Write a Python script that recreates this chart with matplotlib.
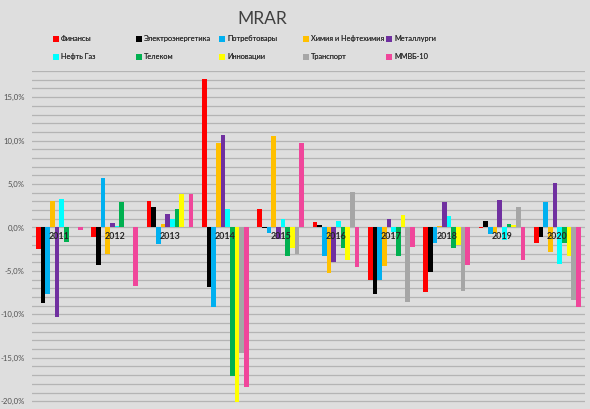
import numpy as np
import matplotlib.pyplot as plt
from matplotlib.lines import Line2D
from matplotlib.ticker import MultipleLocator, FuncFormatter

# Годы и отрасли
years = ['2011', '2012', '2013', '2014', '2015', '2016', '2017', '2018', '2019', '2020']
sectors = ['Финансы', 'Электроэнергетика', 'Потребтовары', 'Химия и Нефтехимия', 'Металлурги',
           'Нефть Газ', 'Телеком', 'Инновации', 'Транспорт', 'ММВБ-10']
colors = ['#ff0000', '#000000', '#00b0f0', '#ffc000', '#7030a0',
          '#00ffff', '#00b050', '#ffff00', '#a6a6a6', '#f0469b']

# Значения MRAR, %
finansy = [-2.5, -1.1, 3.0, 17.1, 2.1, 0.6, -6.1, -7.4, -0.05, -1.75]
elektro = [-8.7, -4.3, 2.3, -6.8, -0.1, 0.3, -7.6, -5.1, 0.75, -1.05]
potreb = [-7.7, 5.7, -1.9, -9.2, -0.6, -3.3, -6.1, -1.75, -0.8, 2.9]
himiya = [3.0, -3.0, 0.4, 9.75, 10.55, -5.2, -4.4, 0.2, -0.65, -2.8]
metall = [-10.3, 0.5, 1.5, 10.6, -1.3, -4.0, 1.0, 2.9, 3.2, 5.1]
neft_gaz = [3.3, 0.2, 1.0, 2.1, 0.95, 0.75, -0.5, 1.35, -1.4, -4.2]
telekom = [-1.7, 2.9, 2.1, -17.1, -3.3, -2.4, -3.3, -2.4, 0.4, -1.8]
innov = [0, 0, 3.8, -20.1, -2.4, -3.8, 1.4, -2.0, 0.3, -3.3]
transport = [0, 0, 0, -14.4, -3.0, 4.1, -8.6, -7.3, 2.3, -8.3]
mmvb = [-0.3, -6.7, 3.9, -18.4, 9.7, -4.6, -2.2, -4.35, -3.7, -9.2]

series = [finansy, elektro, potreb, himiya, metall, neft_gaz, telekom, innov, transport, mmvb]

plt.rcParams['font.family'] = ['Lato', 'DejaVu Sans']
BG = '#dedede'

fig = plt.figure(figsize=(5.9, 4.09), dpi=100, facecolor=BG)
ax = fig.add_axes([0.0536, 0.0147, 0.938, 0.8115], facecolor=BG)

x = np.arange(len(years))
n = len(series)
w = 0.84 / n
for k, vals in enumerate(series):
    ax.bar(x - 0.42 + w * (k + 0.5), vals, width=w, color=colors[k],
           label=sectors[k], zorder=3, linewidth=0)

ax.set_xlim(-0.5, len(years) - 0.5)
ax.set_ylim(-20.2, 18)
ax.yaxis.set_major_locator(MultipleLocator(5))
ax.yaxis.set_minor_locator(MultipleLocator(1))
ax.yaxis.set_major_formatter(FuncFormatter(lambda v, p: f'{v:.1f}%'.replace('.', ',')))
ax.grid(axis='y', which='both', color='#b4b4b4', linewidth=0.9, zorder=0)
ax.set_xticks([])
ax.tick_params(axis='y', which='both', length=0, labelsize=5.6, labelcolor='#505050', pad=5)
for s in ax.spines.values():
    s.set_visible(False)

# подписи годов у нулевой линии
for i, yr in enumerate(years):
    ax.annotate(yr, (i, 0), xytext=(0, -3.5), textcoords='offset points',
                ha='center', va='top', fontsize=6.4, fontweight='bold',
                color='#262626', zorder=5)

fig.text(0.444, 0.953, 'MRAR', ha='center', va='center', fontsize=12.5,
         color='#404040')

# легенда: 5 колонок одинаковой ширины, квадратные маркеры
handles = [Line2D([], [], linestyle='', marker='s', markersize=3.8,
                  markerfacecolor=c, markeredgewidth=0, label=lab)
           for c, lab in zip(colors, sectors)]
col_x = [52, 135, 218, 302, 385]
for k in range(5):
    leg = fig.legend(handles=[handles[k], handles[k + 5]], loc='upper left',
                     bbox_to_anchor=(col_x[k] / 590, 1 - 34 / 409),
                     frameon=False, fontsize=5.3, handlelength=0.7,
                     handletextpad=0.35, labelspacing=1.45,
                     borderaxespad=0, borderpad=0.2, labelcolor='#303030')
    fig.add_artist(leg)

plt.savefig('out.png', dpi=100, facecolor=BG)
